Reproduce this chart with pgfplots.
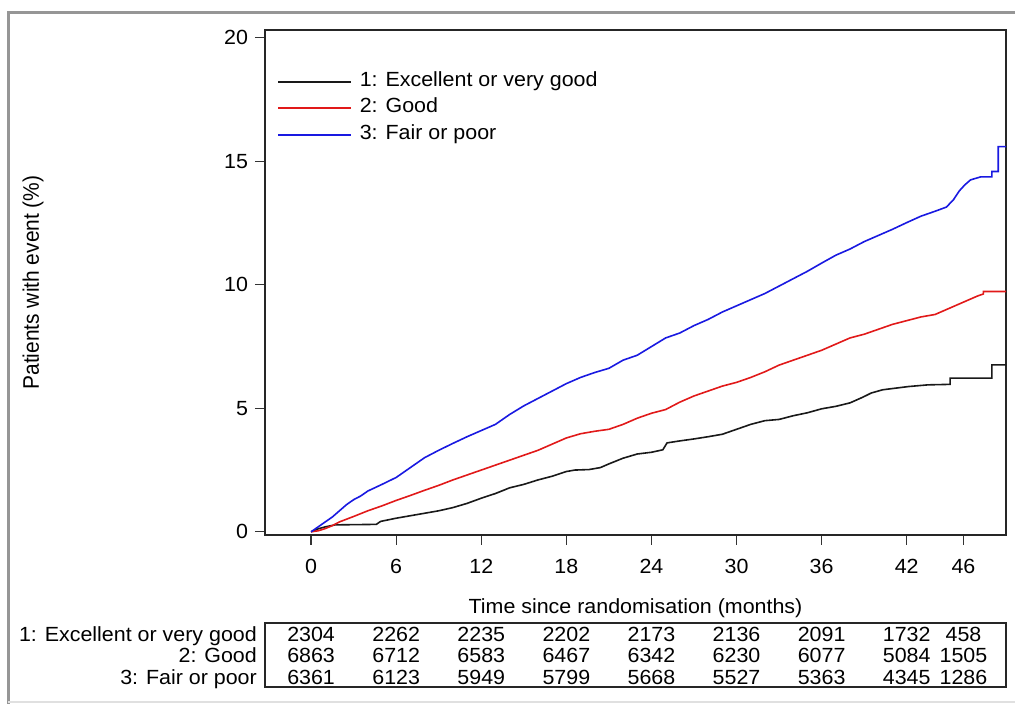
\documentclass[border=0pt]{standalone}
\usepackage{fontspec}
\setmainfont{Liberation Sans}[FakeStretch=1.045]
\newfontfamily\ylabfont{Liberation Sans}[FakeStretch=0.93]
\usepackage{pgfplots}
\pgfplotsset{compat=1.18}
\definecolor{kmblack}{RGB}{25,25,25}
\definecolor{kmred}{RGB}{225,25,25}
\definecolor{kmblue}{RGB}{25,25,225}
\definecolor{framegray}{RGB}{150,150,150}

\begin{document}
\fontsize{20.5}{24}\selectfont
\begin{tikzpicture}[x=1pt,y=1pt]
\useasboundingbox (0,0) rectangle (1015,704);
\draw[framegray, line width=3pt] (8,0) -- (8,691) -- (1015,691);
\draw[black!12, line width=1.5pt] (8,2) -- (1015,2);

\begin{axis}[
  at={(265pt,169pt)}, anchor=south west,
  scale only axis, width=741pt, height=505pt,
  xmin=-3.25, xmax=49, ymin=-0.13, ymax=20.32,
  xtick={0,6,12,18,24,30,36,42,46},
  ytick={0,5,10,15,20},
  tick align=outside, tick pos=left,
  major tick length=10pt,
  every tick/.style={black!80, line width=1.2pt},
  axis line style={black!85, line width=1.3pt},
  /pgf/number format/assume math mode=true,
  ticklabel style={font=\fontsize{20.5}{24}\selectfont},
  xticklabel style={yshift=-7pt},
  xlabel={Time since randomisation (months)},
  ylabel={Patients with event (\%)},
  every axis x label/.style={at={(axis description cs:0.5,-0.1440)}, anchor=center},
  every axis y label/.style={at={(axis description cs:-0.3131,0.5)}, anchor=center, rotate=90, font=\ylabfont\fontsize{22.5}{26}\selectfont},
  legend style={at={(axis description cs:0.0162,0.9168)}, anchor=north west, draw=none, fill=none, inner sep=0pt, row sep=7.5pt, column sep=8pt, nodes={inner sep=0pt, text height=14pt, text depth=5pt}},
  legend cell align=left,
  legend image code/.code={\draw[#1] (0pt,0pt) -- (73pt,0pt);},
]
\addplot[kmblack, line width=1.6pt] coordinates {
(0,0) (0.5,0.12) (1,0.2) (1.7,0.28) (4.6,0.3) (4.9,0.42) (6,0.55) (7,0.65) (8,0.75) (9,0.85) (10,0.98) (11,1.15) (12,1.36) (13,1.55) (14,1.78) (15,1.92) (16,2.1) (17,2.25) (18,2.44) (18.6,2.5) (19.6,2.52) (20.4,2.6) (21,2.75) (22,2.98) (23,3.15) (24,3.22) (24.8,3.32) (25.1,3.6) (26,3.68) (27,3.76) (28,3.85) (29,3.95) (30,4.15) (31,4.35) (32,4.5) (33,4.55) (34,4.7) (35,4.82) (36,4.98) (37,5.08) (38,5.22) (38.9,5.45) (39.5,5.62) (40.3,5.75) (42.1,5.88) (43.5,5.95) (45.06,5.97) (45.06,6.22) (48.0,6.22) (48.0,6.76) (49,6.76)
};
\addlegendentry{1: Excellent or very good}
\addplot[kmred, line width=1.6pt] coordinates {
(0,0) (0.5,0.04) (1,0.13) (1.5,0.25) (2,0.4) (3,0.62) (4,0.85) (5,1.05) (6,1.27) (7,1.47) (8,1.68) (9,1.88) (10,2.1) (11,2.3) (12,2.5) (13,2.7) (14,2.9) (15,3.1) (16,3.3) (17,3.55) (18,3.8) (19,3.97) (20,4.07) (21,4.15) (22,4.35) (23,4.6) (24,4.8) (25,4.95) (26,5.25) (27,5.5) (28,5.7) (29,5.9) (30,6.05) (31,6.25) (32,6.48) (33,6.75) (34,6.95) (35,7.15) (36,7.35) (37,7.6) (38,7.85) (39,8.0) (40,8.2) (41,8.4) (42,8.55) (43,8.7) (44,8.8) (45,9.05) (46,9.3) (47,9.55) (47.4,9.63) (47.4,9.73) (49,9.73)
};
\addlegendentry{2: Good}
\addplot[kmblue, line width=1.6pt] coordinates {
(0,0) (0.5,0.2) (1,0.4) (1.5,0.6) (2,0.85) (2.5,1.1) (3,1.3) (3.5,1.45) (4,1.65) (5,1.92) (6,2.2) (7,2.6) (8,3.0) (9,3.3) (10,3.58) (11,3.85) (12,4.1) (13,4.35) (14,4.75) (15,5.1) (16,5.4) (17,5.7) (18,6.0) (19,6.25) (20,6.45) (21,6.62) (22,6.95) (23,7.15) (24,7.5) (25,7.85) (26,8.05) (27,8.35) (28,8.6) (29,8.9) (30,9.15) (31,9.4) (32,9.65) (33,9.95) (34,10.25) (35,10.55) (36,10.88) (37,11.2) (38,11.45) (39,11.75) (40,12.0) (41,12.25) (42,12.52) (43,12.78) (44,12.98) (44.8,13.15) (45.3,13.45) (45.7,13.8) (46.1,14.05) (46.5,14.25) (47.2,14.37) (48.0,14.37) (48.0,14.59) (48.45,14.59) (48.45,15.6) (49,15.6)
};
\addlegendentry{3: Fair or poor}
\end{axis}

\begin{axis}[
  at={(265pt,17pt)}, anchor=south west,
  scale only axis, width=741pt, height=64pt,
  xmin=-3.25, xmax=49, ymin=0.53, ymax=3.51,
  xtick=\empty, ytick={1,2,3},
  yticklabels={3: Fair or poor, 2: Good, 1: Excellent or very good},
  major tick length=0pt, tick pos=left,
  axis line style={black!85, line width=1.3pt},
  /pgf/number format/assume math mode=true,
  yticklabel style={font=\fontsize{20.5}{24}\selectfont, text height=14.7pt, text depth=0pt, inner sep=0pt, xshift=-8pt},
  nodes near coords style={font=\fontsize{20.5}{24}\selectfont, anchor=center, text height=14.7pt, text depth=0pt, inner sep=0pt},
]
\addplot[only marks, mark=*, mark size=0pt, mark options={draw=none,fill=none}, nodes near coords, point meta=explicit symbolic] table[meta=n] {
x y n
0 3 2304
6 3 2262
12 3 2235
18 3 2202
24 3 2173
30 3 2136
36 3 2091
42 3 1732
46 3 458
0 2 6863
6 2 6712
12 2 6583
18 2 6467
24 2 6342
30 2 6230
36 2 6077
42 2 5084
46 2 1505
0 1 6361
6 1 6123
12 1 5949
18 1 5799
24 1 5668
30 1 5527
36 1 5363
42 1 4345
46 1 1286
};
\end{axis}
\end{tikzpicture}
\end{document}
